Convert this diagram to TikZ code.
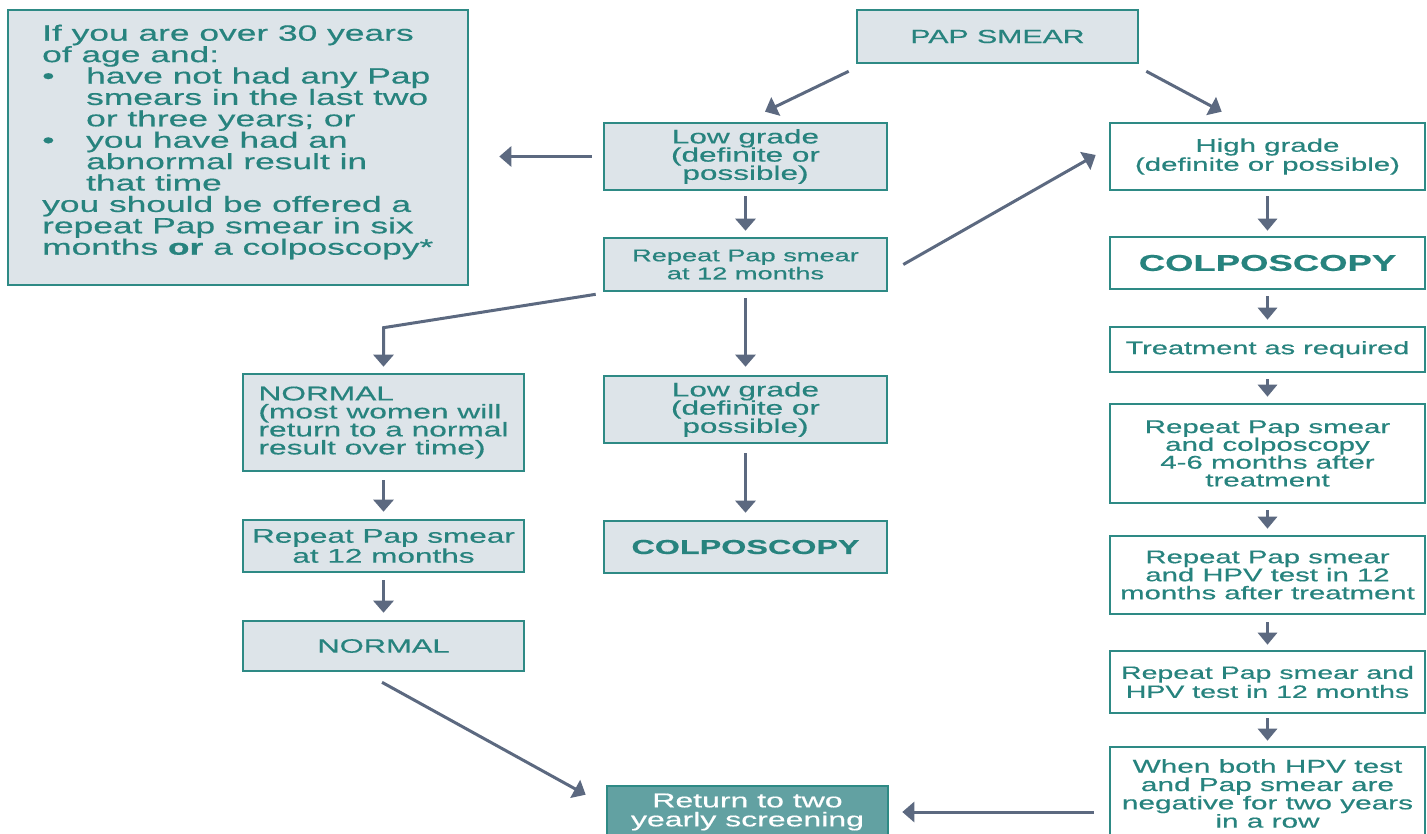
\documentclass[tikz,border=0pt]{standalone}
\usepackage{fontspec}
\setmainfont{Liberation Sans}
\newfontfamily\dg[FakeStretch=1.6,FakeBold=0.5]{Liberation Sans}
\usetikzlibrary{arrows.meta,calc}
\definecolor{boxc}{HTML}{2E8A85}
\definecolor{txtc}{HTML}{27837E}
\definecolor{fillc}{HTML}{DDE4E9}
\definecolor{arrc}{HTML}{5C6980}
\definecolor{retc}{HTML}{62A1A2}
\newcommand{\fsz}[2]{\fontsize{#1pt}{#2pt}\selectfont\lineskiplimit=-100pt\lineskip=0pt}
\begin{document}
\begin{tikzpicture}[x=1pt,y=-1pt,
  box/.style={draw=boxc, line width=2.6pt, fill=fillc, text=txtc, inner sep=0pt, align=center},
  wbox/.style={box, fill=white},
  rbox/.style={box, fill=retc, text=white},
  plain/.style={text=txtc, inner sep=0pt},
  arr/.style={draw=arrc, line width=3pt, -{Triangle[length=12pt,width=20pt]}},
  sarr/.style={arr, -{Triangle[length=12pt,width=19pt]}}
]
\path[use as bounding box] (0,0) rectangle (1427,834);
\clip (0,0) rectangle (1427,834);
\fill[white] (0,0) rectangle (1427,834);

% left info box
\node[box, minimum width=460pt, minimum height=275pt] (info) at (238,147.5) {};
\node[plain, anchor=west, align=left, font=\dg\fsz{22.1}{21.4}] (infot) at (42,142)
 {If you are over 30 years\\
  of age and:\\
  \makebox[44pt][l]{•}have not had any Pap\\
  \hspace*{44pt}smears in the last two\\
  \hspace*{44pt}or three years; or\\
  \makebox[44pt][l]{•}you have had an\\
  \hspace*{44pt}abnormal result in\\
  \hspace*{44pt}that time\\
  you should be offered a\\
  repeat Pap smear in six\\
  months {\bfseries or} a colposcopy*};

% middle column
\node[box, minimum width=281pt, minimum height=53pt, font=\dg\fsz{18.9}{18}] (pap) at (997.5,36.5) {PAP SMEAR};
\node[box, minimum width=283pt, minimum height=67pt, font=\dg\fsz{19.7}{18.2}] (low1) at (745.5,156.5) {Low grade\\(definite or\\possible)};
\node[box, minimum width=283pt, minimum height=53pt, font=\dg\fsz{17}{18}] (rep1) at (745.5,264.5) {Repeat Pap smear\\at 12 months};
\node[box, minimum width=283pt, minimum height=67pt, font=\dg\fsz{19.7}{18.2}] (low2) at (745.5,409.5) {Low grade\\(definite or\\possible)};
\node[box, minimum width=283pt, minimum height=52pt, font=\dg\bfseries\fsz{20.2}{19}] (colp2) at (745.5,547) {COLPOSCOPY};
\node[rbox, minimum width=281pt, minimum height=52pt, font=\dg\fsz{20}{19}] (ret) at (747.5,812) {Return to two\\yearly screening};

% left column
\node[box, align=left, minimum width=281pt, minimum height=97pt, font=\dg\fsz{19.8}{18}] (norm1) at (383.5,422.5) {NORMAL\\(most women will\\return to a normal\\result over time)};
\node[box, minimum width=281pt, minimum height=52pt, font=\dg\fsz{19.7}{20}] (rep2) at (383.5,546) {Repeat Pap smear\\at 12 months};
\node[box, minimum width=281pt, minimum height=50pt, font=\dg\fsz{19.3}{18}] (norm2) at (383.5,646) {NORMAL};

% right column
\node[wbox, minimum width=315pt, minimum height=67pt, font=\dg\fsz{18.4}{19}] (high) at (1267.5,156.5) {High grade\\(definite or possible)};
\node[wbox, minimum width=315pt, minimum height=52pt, font=\dg\bfseries\fsz{22.8}{21}] (colp1) at (1267.5,263) {COLPOSCOPY};
\node[wbox, minimum width=315pt, minimum height=45pt, font=\dg\fsz{18.1}{18}] (treat) at (1267.5,349.5) {Treatment as required};
\node[wbox, minimum width=315pt, minimum height=99pt, font=\dg\fsz{18.4}{17.8}] (rc) at (1267.5,453.5) {Repeat Pap smear\\and colposcopy\\4-6 months after\\treatment};
\node[wbox, minimum width=315pt, minimum height=78pt, font=\dg\fsz{18.3}{18}] (rh12) at (1267.5,575) {Repeat Pap smear\\and HPV test in 12\\months after treatment};
\node[wbox, minimum width=315pt, minimum height=62pt, font=\dg\fsz{17.8}{19}] (rh) at (1267.5,682) {Repeat Pap smear and\\HPV test in 12 months};
\node[wbox, minimum width=315pt, minimum height=93pt, font=\dg\fsz{18.6}{18.3}] (final) at (1267.5,793.5) {When both HPV test\\and Pap smear are\\negative for two years\\in a row};

% connectors
\draw[arr] ([shift={(-7,7)}]pap.south west) -- ([shift={(19.5,-10)}]low1.north);
\draw[arr] ([shift={(7,7)}]pap.south east) -- ([shift={(113,-10)}]high.north west);
\draw[arr] ([shift={(-11,0)}]low1.west) -- ($(info.east|-low1.west)+(30,0)$);
\draw[arr] ([shift={(0,5)}]low1.south) -- ([shift={(0,-6)}]rep1.north);
\draw[arr] ([shift={(15,0)}]rep1.east) -- ([shift={(-13,-1.5)}]high.west);
\draw[arr] ([shift={(0,6)}]rep1.south) -- ([shift={(0,-8)}]low2.north);
\draw[arr] ([shift={(-7,2)}]rep1.south west) -- ([shift={(0,-45)}]norm1.north) -- ([shift={(0,-6)}]norm1.north);
\draw[arr] ([shift={(0,8)}]norm1.south) -- ([shift={(0,-7)}]rep2.north);
\draw[arr] ([shift={(0,7)}]rep2.south) -- ([shift={(0,-7)}]norm2.north);
\draw[arr] ([shift={(-1.5,10)}]norm2.south) -- ([shift={(-20,10)}]ret.north west);
\draw[arr] ([shift={(0,9)}]low2.south) -- ([shift={(0,-7)}]colp2.north);
\draw[arr] ($(final.west|-ret.east)+(-15,0)$) -- ([shift={(13,0)}]ret.east);
\draw[sarr] ([shift={(0,5)}]high.south) -- ([shift={(0,-5)}]colp1.north);
\draw[sarr] ([shift={(0,6)}]colp1.south) -- ([shift={(0,-6)}]treat.north);
\draw[sarr] ([shift={(0,6)}]treat.south) -- ([shift={(0,-6)}]rc.north);
\draw[sarr] ([shift={(0,6)}]rc.south) -- ([shift={(0,-6)}]rh12.north);
\draw[sarr] ([shift={(0,7)}]rh12.south) -- ([shift={(0,-5)}]rh.north);
\draw[sarr] ([shift={(0,4)}]rh.south) -- ([shift={(0,-5)}]final.north);
\end{tikzpicture}
\end{document}
